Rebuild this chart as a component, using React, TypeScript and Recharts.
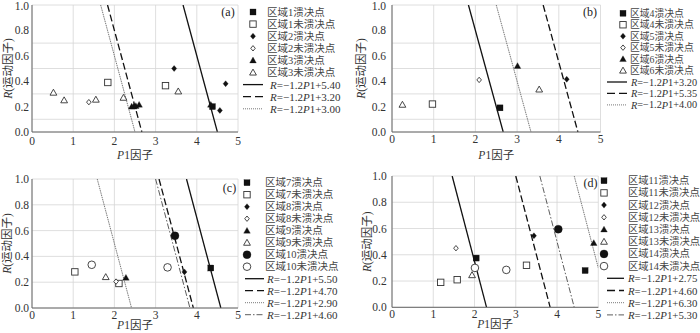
import React from "react";
import {
  CartesianGrid,
  ReferenceLine,
  Scatter,
  ScatterChart,
  XAxis,
  YAxis,
} from "recharts";

// 判别线斜率 R = -1.2 * P1 + b
const SLOPE = -1.2;
const P1_TICKS = [0, 1, 2, 3, 4, 5];
const R_TICKS = [0, 0.1, 0.2, 0.3, 0.4, 0.5, 0.6, 0.7, 0.8, 0.9, 1.0];

// 图(a) 区域1-3
const region1Burst = [{ p1: 4.38, r: 0.2 }];
const region1Intact = [{ p1: 1.84, r: 0.39 }, { p1: 3.24, r: 0.365 }];
const region2Burst = [{ p1: 3.45, r: 0.5 }, { p1: 4.7, r: 0.38 }, { p1: 4.56, r: 0.17 }];
const region2Intact = [{ p1: 1.38, r: 0.235 }];
const region3Burst = [
  { p1: 2.42, r: 0.2 },
  { p1: 2.47, r: 0.2 },
  { p1: 2.52, r: 0.205 },
  { p1: 2.6, r: 0.215 },
  { p1: 4.34, r: 0.215 },
];
const region3Intact = [
  { p1: 0.52, r: 0.31 },
  { p1: 0.78, r: 0.25 },
  { p1: 1.55, r: 0.255 },
  { p1: 2.22, r: 0.27 },
  { p1: 3.55, r: 0.32 },
];
const interceptsA = [5.4, 3.2, 3.0];

// 图(b) 区域4-6
const region4Burst = [{ p1: 2.59, r: 0.19 }];
const region4Intact = [{ p1: 0.97, r: 0.22 }];
const region5Burst = [{ p1: 4.19, r: 0.415 }];
const region5Intact = [{ p1: 2.09, r: 0.41 }];
const region6Burst = [{ p1: 3.01, r: 0.52 }];
const region6Intact = [{ p1: 0.25, r: 0.215 }, { p1: 3.53, r: 0.335 }];
const interceptsB = [3.2, 5.35, 4.0];

// 图(c) 区域7-10
const region7Burst = [{ p1: 4.34, r: 0.31 }];
const region7Intact = [{ p1: 1.04, r: 0.28 }, { p1: 2.11, r: 0.19 }];
const region8Burst = [{ p1: 3.7, r: 0.28 }];
const region8Intact = [{ p1: 2.04, r: 0.205 }];
const region9Burst = [{ p1: 2.28, r: 0.235 }];
const region9Intact = [{ p1: 1.79, r: 0.24 }];
const region10Burst = [{ p1: 3.47, r: 0.56 }];
const region10Intact = [{ p1: 1.45, r: 0.335 }, { p1: 3.29, r: 0.315 }];
const interceptsC = [5.5, 4.7, 2.9, 4.6];

// 图(d) 区域11-14
const region11Burst = [{ p1: 2.04, r: 0.375 }, { p1: 4.68, r: 0.28 }];
const region11Intact = [{ p1: 1.18, r: 0.19 }, { p1: 1.58, r: 0.21 }, { p1: 3.26, r: 0.32 }];
const region12Burst = [{ p1: 3.44, r: 0.545 }];
const region12Intact = [{ p1: 1.55, r: 0.45 }];
const region13Burst = [{ p1: 4.89, r: 0.49 }];
const region13Intact = [{ p1: 1.94, r: 0.245 }];
const region14Burst = [{ p1: 4.03, r: 0.595 }];
const region14Intact = [{ p1: 2.01, r: 0.3 }, { p1: 2.77, r: 0.285 }];
const interceptsD = [2.75, 4.6, 6.3, 5.3];

const SERIF = "'Liberation Serif', 'Noto Sans CJK SC', serif";
const TEXT = "#333";

// 每个区域依次用的符号: 实心=溃决, 空心=未溃决
const MARKER_KINDS = ["square", "diamond", "triangle", "circle"];

const LINE_STYLES = [
  { stroke: "#111", width: 1.3, dash: undefined, legendDash: undefined },
  { stroke: "#111", width: 1.3, dash: "7 3", legendDash: "8 4" },
  { stroke: "#555", width: 0.8, dash: "1.5 0.8", legendDash: "1 1" },
  { stroke: "#333", width: 0.8, dash: "6 2 1.5 2", legendDash: "6 2 1.5 2" },
];

const panels = [
  {
    tag: "(a)",
    regions: [1, 2, 3],
    groups: [
      [region1Burst, region1Intact],
      [region2Burst, region2Intact],
      [region3Burst, region3Intact],
    ],
    intercepts: interceptsA,
    layout: {
      left: 0, top: 0, height: 166,
      plotLeft: 32, plotRight: 238, plotTop: 5, plotBottom: 132,
      yTickGap: 3, xTickGap: 4.5, yTitleX: 8, xTitleDy: 23,
      markerX: 253, markerTextX: 267, lineX1: 243, lineX2: 263, lineTextX: 270,
      rowY0: 12, rowStep: 12.1, legendFont: 10.5, tagX: 228, tagY: 12,
    },
  },
  {
    tag: "(b)",
    regions: [4, 5, 6],
    groups: [
      [region4Burst, region4Intact],
      [region5Burst, region5Intact],
      [region6Burst, region6Intact],
    ],
    intercepts: interceptsB,
    layout: {
      left: 350, top: 0, height: 166,
      plotLeft: 42, plotRight: 250.5, plotTop: 5, plotBottom: 132,
      yTickGap: 6, xTickGap: 3, yTitleX: 10.5, xTitleDy: 23,
      markerX: 273, markerTextX: 280, lineX1: 257, lineX2: 277, lineTextX: 281,
      rowY0: 13.3, rowStep: 11.45, legendFont: 9.8, tagX: 240, tagY: 12,
    },
  },
  {
    tag: "(c)",
    regions: [7, 8, 9, 10],
    groups: [
      [region7Burst, region7Intact],
      [region8Burst, region8Intact],
      [region9Burst, region9Intact],
      [region10Burst, region10Intact],
    ],
    intercepts: interceptsC,
    layout: {
      left: 0, top: 166, height: 167,
      plotLeft: 32, plotRight: 238, plotTop: 13, plotBottom: 142,
      yTickGap: 3, xTickGap: 3, yTitleX: 7, xTitleDy: 16.5,
      markerX: 247, markerTextX: 265, lineX1: 245, lineX2: 264, lineTextX: 267,
      rowY0: 16.7, rowStep: 12, legendFont: 10.5, tagX: 229.5, tagY: 22,
    },
  },
  {
    tag: "(d)",
    regions: [11, 12, 13, 14],
    groups: [
      [region11Burst, region11Intact],
      [region12Burst, region12Intact],
      [region13Burst, region13Intact],
      [region14Burst, region14Intact],
    ],
    intercepts: interceptsD,
    layout: {
      left: 350, top: 166, height: 167,
      plotLeft: 42, plotRight: 248.3, plotTop: 10, plotBottom: 141.3,
      yTickGap: 5.3, xTickGap: 2.5, yTitleX: 16.5, xTitleDy: 17,
      markerX: 254, markerTextX: 278, lineX1: 257, lineX2: 274, lineTextX: 278,
      rowY0: 14.7, rowStep: 12.2, legendFont: 10.3, tagX: 240.5, tagY: 17,
    },
  },
];

// 由截距求线段端点 (R=1 与 R=0, 超出 P1=5 时截断)
const segmentFor = (b: number) => {
  const top = { x: (1 - b) / SLOPE, y: 1 };
  let bottom = { x: -b / SLOPE, y: 0 };
  if (bottom.x > 5) bottom = { x: 5, y: SLOPE * 5 + b };
  return [top, bottom];
};

function Marker({ kind, open, cx, cy }: any) {
  const fill = open ? "#fff" : "#111";
  const stroke = open ? "#333" : "#111";
  const sw = open ? 0.9 : 0.3;
  if (kind === "square") {
    const h = open ? 3.2 : 3;
    return <rect x={cx - h} y={cy - h} width={2 * h} height={2 * h} fill={fill} stroke={stroke} strokeWidth={sw} />;
  }
  if (kind === "diamond") {
    const h = open ? 2.7 : 3;
    return (
      <polygon
        points={`${cx},${cy - h} ${cx + h * 0.85},${cy} ${cx},${cy + h} ${cx - h * 0.85},${cy}`}
        fill={fill}
        stroke={stroke}
        strokeWidth={sw}
      />
    );
  }
  if (kind === "triangle") {
    const h = open ? 3.4 : 3.3;
    return (
      <polygon
        points={`${cx},${cy - h} ${cx + h},${cy + h * 0.75} ${cx - h},${cy + h * 0.75}`}
        fill={fill}
        stroke={stroke}
        strokeWidth={sw}
      />
    );
  }
  return <circle cx={cx} cy={cy} r={open ? 3.8 : 4} fill={fill} stroke={stroke} strokeWidth={sw} />;
}

const markerShape = (idx: number, open: boolean) => (props: any) => (
  <Marker kind={MARKER_KINDS[idx]} open={open} cx={props.cx} cy={props.cy} />
);

const eqText = (b: number) => (
  <>
    <tspan fontStyle="italic">R</tspan>
    {"=\u22121.2"}
    <tspan fontStyle="italic">P</tspan>
    {"1+" + b.toFixed(2)}
  </>
);

function LegendOverlay({ panel }: any) {
  const L = panel.layout;
  let row = 0;
  const rows: React.ReactNode[] = [];
  panel.regions.forEach((n: number, i: number) => {
    [false, true].forEach((open) => {
      const y = L.rowY0 + row * L.rowStep;
      rows.push(
        <g key={`m-${n}-${open}`}>
          <Marker kind={MARKER_KINDS[i]} open={open} cx={L.markerX} cy={y} />
          <text x={L.markerTextX} y={y} dominantBaseline="central" fontSize={L.legendFont} fill="#444">
            {`区域${n}${open ? "未溃决点" : "溃决点"}`}
          </text>
        </g>
      );
      row += 1;
    });
  });
  panel.intercepts.forEach((b: number, i: number) => {
    const y = L.rowY0 + row * L.rowStep;
    const s = LINE_STYLES[i];
    rows.push(
      <g key={`l-${i}`}>
        <line x1={L.lineX1} x2={L.lineX2} y1={y} y2={y} stroke={s.stroke} strokeWidth={s.width} strokeDasharray={s.legendDash} />
        <text x={L.lineTextX} y={y} dominantBaseline="central" fontSize={L.legendFont + 0.5} fill="#333">
          {eqText(b)}
        </text>
      </g>
    );
    row += 1;
  });
  return (
    <svg
      width={350}
      height={L.height}
      style={{ position: "absolute", left: 0, top: 0, pointerEvents: "none", fontFamily: SERIF }}
    >
      {rows}
      <text x={L.tagX} y={L.tagY} textAnchor="middle" dominantBaseline="central" fontSize={12} fill="#222">
        {panel.tag}
      </text>
    </svg>
  );
}

function Panel({ panel }: any) {
  const L = panel.layout;
  const tickStyle = { fontSize: 11.5, fill: TEXT, fontFamily: SERIF };

  const xTitle = (props: any) => {
    const vb = props.viewBox;
    return (
      <text
        x={vb.x + vb.width / 2}
        y={vb.y + L.xTitleDy}
        textAnchor="middle"
        dominantBaseline="central"
        fontSize={11.5}
        fill={TEXT}
        fontFamily={SERIF}
      >
        <tspan fontStyle="italic">P</tspan>1因子
      </text>
    );
  };

  const yTitle = (props: any) => {
    const vb = props.viewBox;
    const cy = vb.y + vb.height / 2;
    return (
      <text
        transform={`translate(${L.yTitleX}, ${cy}) rotate(-90)`}
        textAnchor="middle"
        dominantBaseline="central"
        fontSize={11.5}
        fill={TEXT}
        fontFamily={SERIF}
      >
        <tspan fontStyle="italic">R</tspan>(运动因子)
      </text>
    );
  };

  return (
    <div style={{ position: "absolute", left: L.left, top: L.top, width: 350, height: L.height }}>
      <ScatterChart
        width={350}
        height={L.height}
        margin={{ top: L.plotTop, right: 350 - L.plotRight, bottom: 0, left: 0 }}
      >
        <CartesianGrid stroke="#d6d6d6" strokeWidth={0.8} />
        <XAxis
          type="number"
          dataKey="p1"
          domain={[0, 5]}
          ticks={P1_TICKS}
          allowDataOverflow
          height={L.height - L.plotBottom}
          tickLine={false}
          tickSize={L.xTickGap}
          tickMargin={0}
          axisLine={{ stroke: "#666" }}
          tick={tickStyle}
          label={{ content: xTitle }}
        />
        <YAxis
          type="number"
          dataKey="r"
          domain={[0, 1]}
          ticks={R_TICKS}
          allowDataOverflow
          width={L.plotLeft}
          tickFormatter={(v: number) => v.toFixed(1)}
          tickLine={false}
          tickSize={L.yTickGap}
          tickMargin={0}
          axisLine={{ stroke: "#666" }}
          tick={tickStyle}
          label={{ content: yTitle }}
        />
        {panel.intercepts.map((b: number, i: number) => {
          const s = LINE_STYLES[i];
          return (
            <ReferenceLine
              key={`line-${i}`}
              segment={segmentFor(b)}
              ifOverflow="hidden"
              stroke={s.stroke}
              strokeWidth={s.width}
              strokeDasharray={s.dash}
            />
          );
        })}
        {panel.groups.map((pair: any[], i: number) =>
          pair.map((data, j) => (
            <Scatter
              key={`s-${i}-${j}`}
              data={data}
              shape={markerShape(i, j === 1)}
              isAnimationActive={false}
            />
          ))
        )}
      </ScatterChart>
      <LegendOverlay panel={panel} />
    </div>
  );
}

export default function App() {
  return (
    <div
      style={{
        position: "absolute",
        left: 0,
        top: 0,
        width: 700,
        height: 333,
        background: "#fff",
        overflow: "hidden",
        fontFamily: SERIF,
      }}
    >
      {panels.map((p) => (
        <Panel key={p.tag} panel={p} />
      ))}
    </div>
  );
}
